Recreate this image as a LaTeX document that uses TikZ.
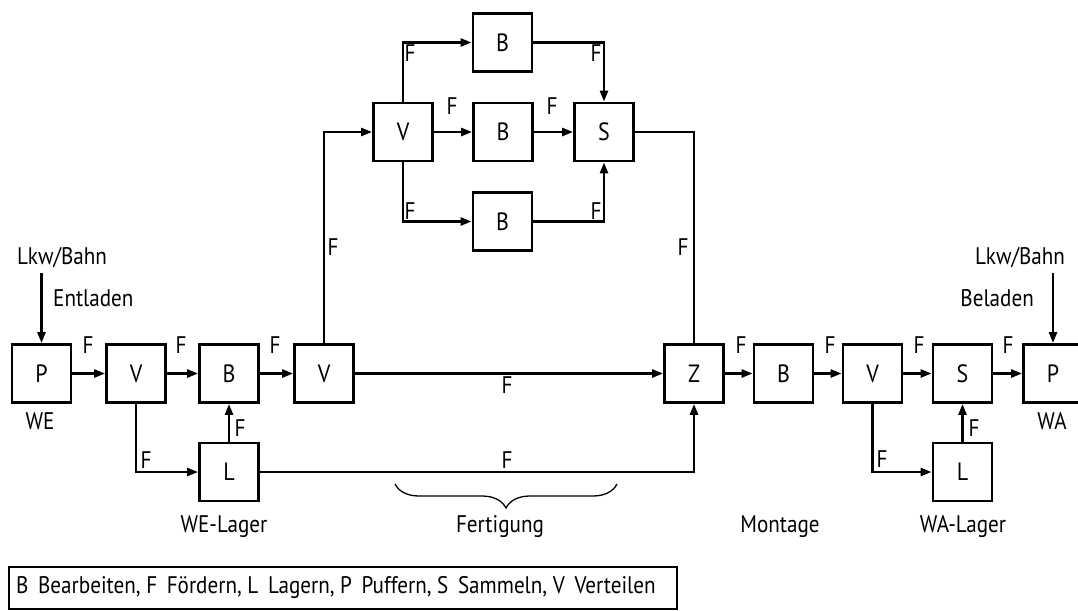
\documentclass[tikz,border=0pt]{standalone}
\usepackage{fontspec}
\setmainfont{PT Sans}[FakeStretch=0.88]
\usetikzlibrary{arrows.meta,decorations.pathreplacing}
\begin{document}
\begin{tikzpicture}[x=1pt,y=-1pt,
  proc/.style={draw,line width=2.8pt,minimum width=59pt,minimum height=58pt,inner sep=0pt,font=\fontsize{25}{27}\selectfont},
  lbl/.style={inner sep=0pt,font=\fontsize{24}{26}\selectfont},
  conn/.style={line width=2.5pt,-{Triangle[length=11pt,width=8pt]}},
  plain/.style={line width=2.5pt}]
\useasboundingbox (0,0) rectangle (1078,610);
% main row
\node[proc] (P1) at (41.5,373.5) {P};
\node[proc] (V1) at (136,373.5) {V};
\node[proc] (B1) at (229,373.5) {B};
\node[proc] (V2) at (324,373.5) {V};
\node[proc] (Z) at (694,373.5) {Z};
\node[proc] (Bm) at (783.5,373.5) {B};
\node[proc] (V3) at (872.5,373.5) {V};
\node[proc] (S2) at (962.5,373.5) {S};
\node[proc] (P2) at (1053,373.5) {P};
\node[proc] (L1) at (229,472) {L};
\node[proc] (L2) at (962.5,472) {L};
% top group
\node[proc] (Vt) at (403,132) {V};
\node[proc] (Bt1) at (502.5,42.5) {B};
\node[proc] (Bt2) at (503,132) {B};
\node[proc] (St) at (604,132) {S};
\node[proc] (Bt3) at (502.5,221.5) {B};
% free ends
\coordinate (in1) at (41.5,273);
\coordinate (in2) at (1053,273);
% connectors
\draw[conn] (in1) -- (P1.north);
\draw[conn] (in2) -- (P2.north);
\draw[conn] (P1) -- (V1);
\draw[conn] (V1) -- (B1);
\draw[conn] (B1) -- (V2);
\draw[conn] (V2) -- (Z);
\draw[conn] (V2.north) |- (Vt.west);
\draw[conn] (V1.south) |- (L1.west);
\draw[conn] (L1.north) -- (B1.south);
\draw[conn] (L1.east) -| (Z.south);
\draw[conn] (Vt.north) |- (Bt1.west);
\draw[conn] (Vt) -- (Bt2);
\draw[conn] (Bt2) -- (St);
\draw[conn] (Vt.south) |- (Bt3.west);
\draw[conn] (Bt1.east) -| (St.north);
\draw[conn] (Bt3.east) -| (St.south);
\draw[plain] (St.east) -| (Z.north);
\draw[conn] (Z) -- (Bm);
\draw[conn] (Bm) -- (V3);
\draw[conn] (V3) -- (S2);
\draw[conn] (S2) -- (P2);
\draw[conn] (V3.south) |- (L2.west);
\draw[conn] (L2.north) -- (S2.south);
% F labels
\node[lbl] (f1) at (88,345) {F};
\node[lbl] (f2) at (181,345) {F};
\node[lbl] (f3) at (275,345) {F};
\node[lbl] (f4) at (507,385) {F};
\node[lbl] (f5) at (333,247) {F};
\node[lbl] (f6) at (146,460) {F};
\node[lbl] (f7) at (240,428) {F};
\node[lbl] (f8) at (507,460) {F};
\node[lbl] (f9) at (410,53) {F};
\node[lbl] (f10) at (452,106) {F};
\node[lbl] (f11) at (552,106) {F};
\node[lbl] (f12) at (596,53) {F};
\node[lbl] (f13) at (410,211) {F};
\node[lbl] (f14) at (596,211) {F};
\node[lbl] (f15) at (683,247) {F};
\node[lbl] (f16) at (741,345) {F};
\node[lbl] (f17) at (830,345) {F};
\node[lbl] (f18) at (919,345) {F};
\node[lbl] (f19) at (1008,345) {F};
\node[lbl] (f20) at (882,459) {F};
\node[lbl] (f21) at (974,428) {F};
% other labels
\node[lbl] (lkw1) at (62,258) {Lkw/Bahn};
\node[lbl,anchor=west] (ent) at (53,298) {Entladen};
\node[lbl] (lkw2) at (1020,258) {Lkw/Bahn};
\node[lbl,anchor=east] (bel) at (1034,298) {Beladen};
\node[lbl] (we) at (40,421) {WE};
\node[lbl] (wa) at (1052,421) {WA};
\node[lbl] (wel) at (224,527) {WE-Lager};
\node[lbl] (fert) at (500,527) {Fertigung};
\node[lbl] (mont) at (780,527) {Montage};
\node[lbl] (wal) at (963,527) {WA-Lager};
% brace
\draw[line width=1.3pt,decorate,decoration={brace,mirror,amplitude=24pt}] (395,484) -- (617,484);
% legend
\node[draw,line width=1.6pt,minimum width=668pt,minimum height=42pt,inner sep=0pt,anchor=north west] (leg) at (8,566) {};
\node[lbl,anchor=west] (legt) at (16,587)
  {B\, Bearbeiten, F\, Fördern, L\, Lagern, P\, Puffern, S\, Sammeln, V\, Verteilen};
\end{tikzpicture}
\end{document}
